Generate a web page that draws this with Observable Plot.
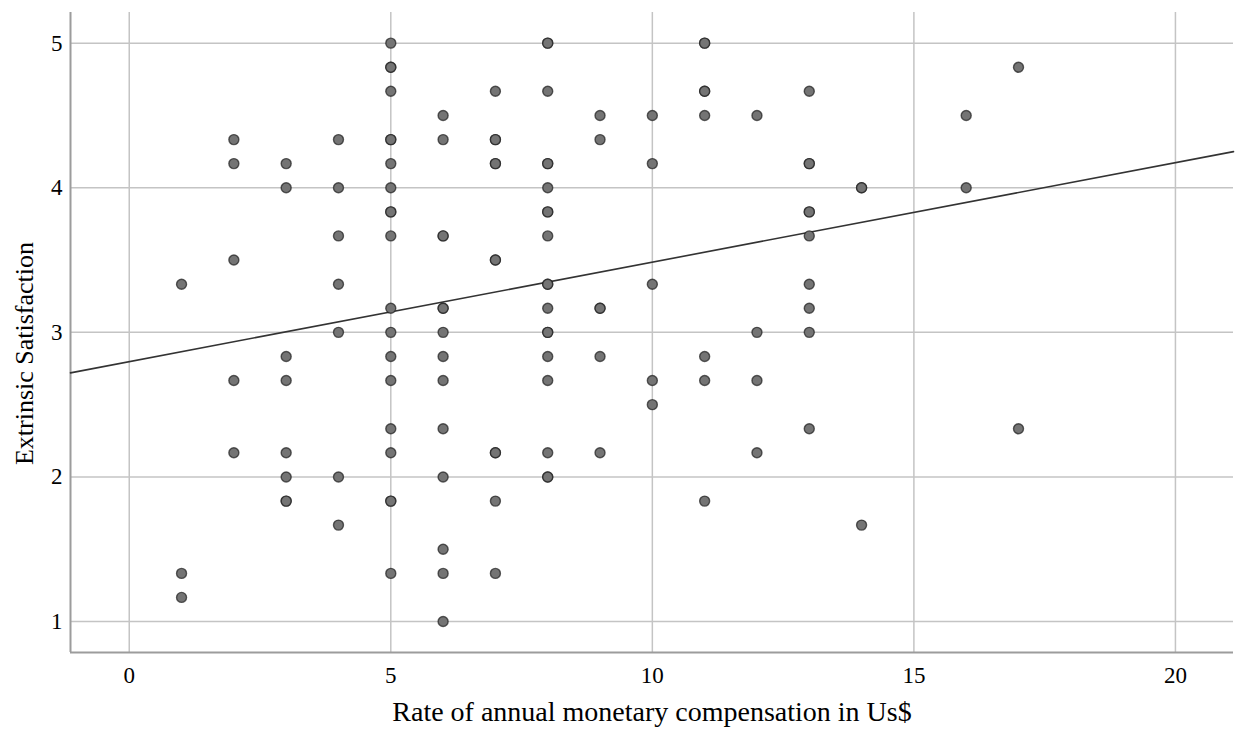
<!DOCTYPE html>
<html><head><meta charset="utf-8">
<script src="https://cdn.jsdelivr.net/npm/d3@7"></script>
<script src="https://cdn.jsdelivr.net/npm/@observablehq/plot@0.6"></script>
<style>
html,body{margin:0;padding:0;background:#fff;}
</style>
</head><body><div id="chart"></div>
<script>
// Rate of annual monetary compensation (x) and Extrinsic Satisfaction (y), one entry per respondent
const compensation = [
  1,1,1,
  2,2,2,2,2,
  3,3,3,3,3,3,3,3,
  4,4,4,4,4,4,4,
  5,5,5,5,5,5,5,5,5,5,5,5,5,5,5,5,5,5,5,5,
  6,6,6,6,6,6,6,6,6,6,6,6,6,6,
  7,7,7,7,7,7,7,7,7,7,7,
  8,8,8,8,8,8,8,8,8,8,8,8,8,8,8,8,8,8,8,
  9,9,9,9,9,9,
  10,10,10,10,10,
  11,11,11,11,11,11,11,11,
  12,12,12,12,
  13,13,13,13,13,13,13,13,13,13,
  14,14,14,
  16,16,
  17,17
];
const satisfaction = [
  3.333,1.333,1.167,
  4.333,4.167,3.5,2.667,2.167,
  4.167,4.0,2.833,2.667,2.167,2.0,1.833,1.833,
  4.333,4.0,3.667,3.333,3.0,2.0,1.667,
  5.0,4.833,4.833,4.667,4.333,4.333,4.167,4.0,3.833,3.833,3.667,3.167,3.0,2.833,2.667,2.333,2.167,1.833,1.833,1.333,
  4.5,4.333,3.667,3.667,3.167,3.167,3.0,2.833,2.667,2.333,2.0,1.5,1.333,1.0,
  4.667,4.333,4.333,4.167,4.167,3.5,3.5,2.167,2.167,1.833,1.333,
  5.0,5.0,4.667,4.167,4.167,4.0,3.833,3.833,3.667,3.333,3.333,3.167,3.0,3.0,2.833,2.667,2.167,2.0,2.0,
  4.5,4.333,3.167,3.167,2.833,2.167,
  4.5,4.167,3.333,2.667,2.5,
  5.0,5.0,4.667,4.667,4.5,2.833,2.667,1.833,
  4.5,3.0,2.667,2.167,
  4.667,4.167,4.167,3.833,3.833,3.667,3.333,3.167,3.0,2.333,
  4.0,4.0,1.667,
  4.5,4.0,
  4.833,2.333
];
// Fit line end points
const fitX = [-1.123, 21.11];
const fitY = [2.72, 4.25];
const xDomain = [-1.123, 21.11];
const yDomain = [0.786, 5.212];
const xTicks = [0, 5, 10, 15, 20];
const yTicks = [1, 2, 3, 4, 5];
const xLabel = "Rate of annual monetary compensation in Us$";
const yLabel = "Extrinsic Satisfaction";

const points = compensation.map((c, i) => ({c, s: satisfaction[i]}));
const fit = fitX.map((x, i) => ({x, y: fitY[i]}));

const chart = Plot.plot({
  width: 1236,
  height: 732,
  marginLeft: 70,
  marginRight: 3,
  marginTop: 12,
  marginBottom: 80,
  style: {fontFamily: "'Liberation Serif', 'Times New Roman', serif", background: "#fff", color: "#000", overflow: "visible"},
  x: {domain: xDomain, ticks: xTicks},
  y: {domain: yDomain, ticks: yTicks},
  marks: [
    Plot.gridX(xTicks, {stroke: "#c4c4c4", strokeOpacity: 1, strokeWidth: 1.5}),
    Plot.gridY(yTicks, {stroke: "#c4c4c4", strokeOpacity: 1, strokeWidth: 1.5}),
    Plot.ruleX([xDomain[0]], {stroke: "#9c9c9c", strokeWidth: 2}),
    Plot.ruleY([yDomain[0]], {stroke: "#9c9c9c", strokeWidth: 2}),
    Plot.axisX(xTicks, {tickSize: 0, tickPadding: 14, fontSize: 23, label: null, fill: "#000", tickFormat: d3.format("d")}),
    Plot.axisY(yTicks, {tickSize: 0, tickPadding: 8, fontSize: 23, label: null, fill: "#000", tickFormat: d3.format("d")}),
    Plot.line(fit, {x: "x", y: "y", stroke: "#333", strokeWidth: 1.6}),
    Plot.dot(points, {x: "c", y: "s", r: 5, fill: "#747474", fillOpacity: 1, stroke: "#1e1e1e", strokeWidth: 1.4, strokeOpacity: 0.7}),
    Plot.text([xLabel], {text: d => d, frameAnchor: "bottom", textAnchor: "middle", dy: 68, fontSize: 28, fill: "#000"}),
    Plot.text([yLabel], {text: d => d, frameAnchor: "left", textAnchor: "middle", dx: -46, dy: 21, rotate: -90, fontSize: 26, fill: "#000"})
  ]
});
document.getElementById("chart").appendChild(chart);
</script>
</body></html>
